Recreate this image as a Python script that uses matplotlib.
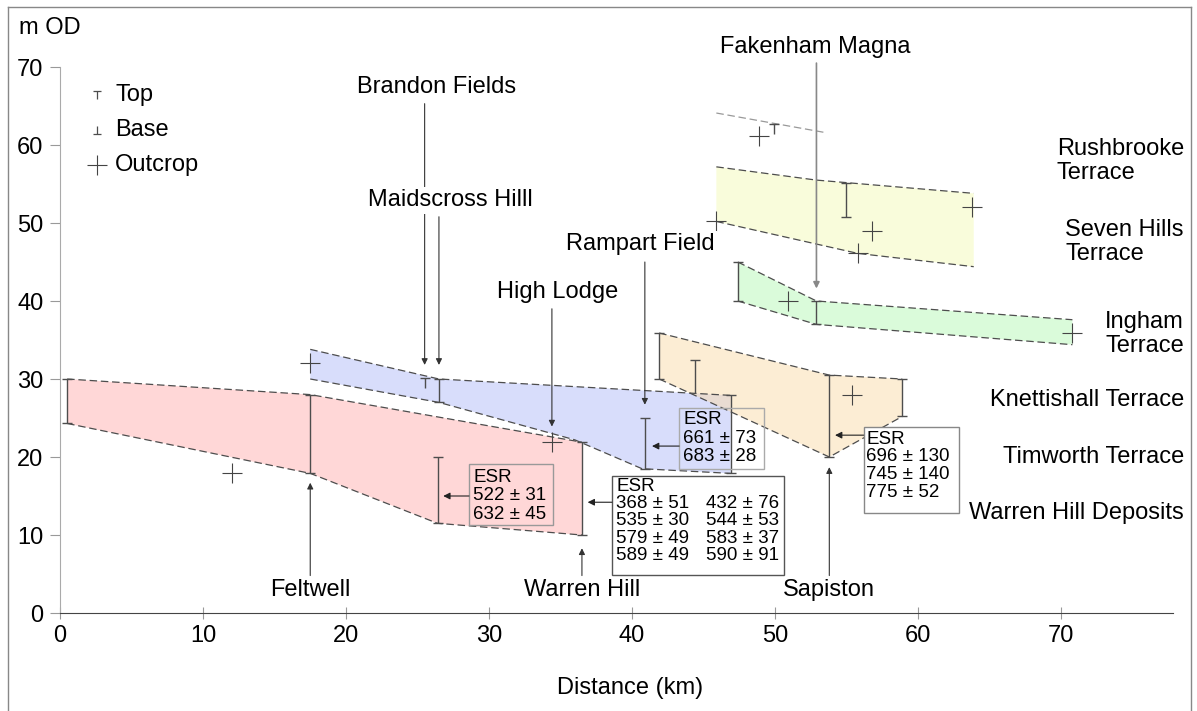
import matplotlib
matplotlib.use('Agg')
import matplotlib.pyplot as plt
from matplotlib.path import Path
from matplotlib.patches import Rectangle
from matplotlib.lines import Line2D

plt.rcParams['font.family'] = ['Liberation Sans', 'DejaVu Sans']

# ---------------- data (km, m OD) ----------------
red_top_x = [0.5, 17.5, 36.5]
red_top_y = [30.0, 28.0, 21.9]
red_bot_x = [0.5, 17.5, 26.4, 36.5]
red_bot_y = [24.3, 17.9, 11.5, 10.0]

blue_top_x = [17.5, 26.5, 46.9]
blue_top_y = [33.8, 30.0, 27.9]
blue_bot_x = [17.5, 26.5, 36.0, 40.7, 46.9]
blue_bot_y = [30.0, 27.0, 22.2, 18.5, 17.9]

orange_top_x = [41.9, 53.8, 58.9]
orange_top_y = [35.9, 30.5, 30.0]
orange_bot_x = [41.9, 53.8, 58.9]
orange_bot_y = [30.0, 20.0, 25.2]

green_top_x = [47.4, 52.9, 70.8]
green_top_y = [45.0, 40.0, 37.6]
green_bot_x = [47.4, 52.9, 70.8]
green_bot_y = [40.0, 37.0, 34.4]

yellow_top_x = [45.9, 52.9, 63.9]
yellow_top_y = [57.2, 55.5, 53.8]
yellow_bot_x = [45.9, 55.8, 63.9]
yellow_bot_y = [50.2, 46.1, 44.4]

upper_x = [45.9, 53.5]
upper_y = [64.1, 61.6]

# sections with top and base
sec_x = [0.5, 17.5, 26.4, 36.5, 26.5, 40.9, 46.9, 41.9, 53.8, 58.9, 47.4, 52.9, 55.0]
sec_base = [24.3, 17.9, 11.5, 10.0, 27.0, 18.5, 17.9, 30.0, 20.0, 25.2, 40.0, 37.0, 50.8]
sec_top = [30.0, 28.0, 20.0, 21.9, 30.0, 25.0, 27.9, 35.9, 30.5, 30.0, 45.0, 40.0, 55.1]

# sections with top only
topsec_x = [44.4]
topsec_from = [28.2]
topsec_top = [32.4]

# isolated top markers
top_x = [25.5, 49.9]
top_y = [30.0, 62.6]

# outcrops
out_x = [12.0, 17.5, 34.4, 55.4, 50.9, 70.8, 45.9, 56.8, 55.8, 63.8, 48.9]
out_y = [17.9, 32.0, 21.9, 27.9, 40.0, 35.9, 50.2, 49.0, 46.1, 52.1, 61.2]

# site labels: name, label x, label y, arrow x, arrow start, arrow tip
site_names = ['Brandon Fields', 'Maidscross Hilll', 'High Lodge', 'Rampart Field',
              'Feltwell', 'Warren Hill', 'Sapiston']
site_lx = [26.3, 27.3, 34.8, 40.6, 17.5, 36.5, 53.8]
site_ly = [67.4, 52.9, 41.2, 47.3, 2.9, 2.9, 2.9]
site_ax = [25.5, 26.5, 34.4, 40.9, 17.5, 36.5, 53.8]
site_a0 = [65.3, 50.8, 39.0, 45.0, 4.8, 4.8, 4.8]
site_a1 = [31.8, 31.8, 23.9, 26.7, 16.7, 8.3, 18.7]

terrace_names = ['Rushbrooke\nTerrace', 'Seven Hills\nTerrace', 'Ingham\nTerrace',
                 'Knettishall Terrace', 'Timworth Terrace', 'Warren Hill Deposits']
terrace_y = [58.0, 47.6, 35.8, 27.3, 20.0, 12.8]

esr1 = ['661 ± 73', '683 ± 28']
esr2a = ['368 ± 51', '535 ± 30', '579 ± 49', '589 ± 49']
esr2b = ['432 ± 76', '544 ± 53', '583 ± 37', '590 ± 91']
esr3 = ['696 ± 130', '745 ± 140', '775 ± 52']
esr4 = ['522 ± 31', '632 ± 45']

xticks = [0, 10, 20, 30, 40, 50, 60, 70]
yticks = [0, 10, 20, 30, 40, 50, 60, 70]

FS = 17
FS_ESR = 13.5

# ---------------- figure ----------------
W, H = 1197, 711
fig = plt.figure(figsize=(W / 100, H / 100), dpi=100)
ax = fig.add_axes([60 / W, (H - 613) / H, 1112.5 / W, 592.8 / H])
ax.set_xlim(0, 77.8)
ax.set_ylim(0, 76)

for s in ['top', 'right']:
    ax.spines[s].set_visible(False)
ax.spines['left'].set_bounds(0, 70)
ax.spines['left'].set_color('#aaaaaa')
ax.spines['bottom'].set_color('#444444')
ax.set_xticks(xticks)
ax.set_yticks(yticks)
ax.tick_params(axis='x', direction='inout', length=9, color='#999999', labelsize=FS, pad=4)
ax.tick_params(axis='y', direction='out', length=7, color='#999999', labelsize=FS, pad=5)

DASH = (0, (6, 3))
EC = '#4d4d4d'


def band(tx, ty, bx, by, color, alpha=0.5):
    xs = list(tx) + list(bx)[::-1]
    ys = list(ty) + list(by)[::-1]
    ax.fill(xs, ys, color=color, alpha=alpha, lw=0, zorder=1)
    ax.plot(tx, ty, ls=DASH, color=EC, lw=0.9, zorder=2)
    ax.plot(bx, by, ls=DASH, color=EC, lw=0.9, zorder=2)


band(red_top_x, red_top_y, red_bot_x, red_bot_y, '#ffb0b0')
band(blue_top_x, blue_top_y, blue_bot_x, blue_bot_y, '#b2bcf8')
band(orange_top_x, orange_top_y, orange_bot_x, orange_bot_y, '#fbdcaa')
band(green_top_x, green_top_y, green_bot_x, green_bot_y, '#b6f8b6')
band(yellow_top_x, yellow_top_y, yellow_bot_x, yellow_bot_y, '#f4fbb8')
ax.plot(upper_x, upper_y, ls=DASH, color='#999999', lw=0.9, zorder=2)

# marker shapes
T_path = Path([(-1, 1), (1, 1), (0, 1), (0, -1)],
              [Path.MOVETO, Path.LINETO, Path.MOVETO, Path.LINETO])
B_path = Path([(-1, -1), (1, -1), (0, -1), (0, 1)],
              [Path.MOVETO, Path.LINETO, Path.MOVETO, Path.LINETO])

ax.vlines(sec_x, sec_base, sec_top, color=EC, lw=1.0, zorder=3)
ax.plot(sec_x, sec_top, ls='none', marker='_', ms=7, mew=1.0, color=EC, zorder=3)
ax.plot(sec_x, sec_base, ls='none', marker='_', ms=7, mew=1.0, color=EC, zorder=3)
ax.vlines(topsec_x, topsec_from, topsec_top, color=EC, lw=1.0, zorder=3)
ax.plot(topsec_x, topsec_top, ls='none', marker='_', ms=7, mew=1.0, color=EC, zorder=3)
ax.plot(top_x, [y - 0.5 for y in top_y], ls='none', marker=T_path, ms=6.5, mew=1.0,
        color=EC, zorder=3)
ax.plot(out_x, out_y, ls='none', marker='+', ms=14, mew=0.8, color='#444444', zorder=4)

# Fakenham Magna long line
ax.annotate('', xy=(52.9, 41.6), xytext=(52.9, 70.5),
            arrowprops=dict(arrowstyle='-|>', color='#888888', lw=1.2,
                            mutation_scale=9, shrinkA=0, shrinkB=0), zorder=5)
ax.text(52.8, 72.6, 'Fakenham Magna', ha='center', va='center', fontsize=FS, clip_on=False)

for name, lx, ly, axx, a0, a1 in zip(site_names, site_lx, site_ly, site_ax, site_a0, site_a1):
    ax.text(lx, ly, name, ha='center', va='center', fontsize=FS, clip_on=False, zorder=8,
            bbox=dict(facecolor='white', edgecolor='none', pad=1.5))
    ax.annotate('', xy=(axx, a1), xytext=(axx, a0),
                arrowprops=dict(arrowstyle='-|>', color='#333333', lw=0.8,
                                mutation_scale=9, shrinkA=0, shrinkB=0), zorder=5)

for name, ty in zip(terrace_names, terrace_y):
    ax.text(78.6, ty, name, ha='right', va='center', multialignment='left',
            fontsize=FS, clip_on=False, linespacing=1.12)

# legend
ax.plot([2.6], [66.4], marker=T_path, ms=6, mew=0.9, color=EC)
ax.plot([2.6], [61.9], marker=B_path, ms=6, mew=0.9, color=EC)
ax.plot([2.6], [57.4], marker='+', ms=14, mew=0.8, color='#444444')
for lab, yy in zip(['Top', 'Base', 'Outcrop'], [66.4, 61.9, 57.4]):
    ax.text(3.85, yy, lab, ha='left', va='center', fontsize=FS)


def box(x0, x1, y0, y1, ec, fc):
    ax.add_patch(Rectangle((x0, y0), x1 - x0, y1 - y0, ec=ec, fc=fc, lw=1.0, zorder=6))


def arrow_left(x_from, x_to, y):
    ax.annotate('', xy=(x_to, y), xytext=(x_from, y),
                arrowprops=dict(arrowstyle='-|>', color='#222222', lw=0.8,
                                mutation_scale=10, shrinkA=0, shrinkB=0), zorder=7)


# ESR boxes
box(43.3, 49.2, 18.5, 26.3, '#aaaaaa', 'none')
ax.text(43.6, 22.4, '\n'.join(['ESR'] + esr1), ha='left', va='center', fontsize=FS_ESR,
        linespacing=1.1, zorder=7)
arrow_left(43.3, 41.4, 21.4)

box(38.6, 50.6, 4.9, 17.6, '#555555', 'white')
ax.text(38.9, 11.8, '\n'.join(['ESR'] + esr2a), ha='left', va='center', fontsize=FS_ESR,
        linespacing=1.03, zorder=7)
ax.text(45.2, 11.8, '\n'.join([' '] + esr2b), ha='left', va='center', fontsize=FS_ESR,
        linespacing=1.03, zorder=7)
arrow_left(38.6, 36.9, 14.2)

box(56.2, 62.9, 12.8, 23.8, '#888888', 'white')
ax.text(56.4, 18.9, '\n'.join(['ESR'] + esr3), ha='left', va='center', fontsize=FS_ESR,
        linespacing=1.05, zorder=7)
arrow_left(56.2, 54.2, 22.8)

box(28.6, 34.5, 11.3, 19.1, '#999999', 'none')
ax.text(28.9, 15.0, '\n'.join(['ESR'] + esr4), ha='left', va='center', fontsize=FS_ESR,
        linespacing=1.12, zorder=7)
arrow_left(28.6, 26.8, 15.0)

# axis titles
fig.text(19 / W, 1 - 28 / H, 'm OD', ha='left', va='center', fontsize=FS)
fig.text(630 / W, 1 - 688 / H, 'Distance (km)', ha='center', va='center', fontsize=FS)

# frame around figure
fc = '#888888'
fig.add_artist(Line2D([8 / W, 8 / W], [0, 1 - 7 / H], color=fc, lw=1.0))
fig.add_artist(Line2D([8 / W, 1191 / W], [1 - 7 / H, 1 - 7 / H], color=fc, lw=1.0))
fig.add_artist(Line2D([1191 / W, 1191 / W], [0, 1 - 7 / H], color=fc, lw=1.0))

fig.savefig('out.png', dpi=100)
